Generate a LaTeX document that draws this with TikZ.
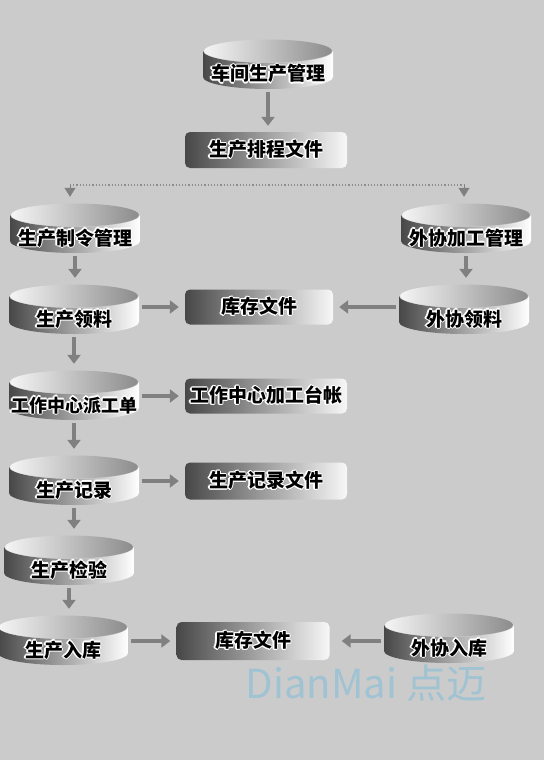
\documentclass[tikz,border=0pt]{standalone}
\usepackage{fontspec}
\usepackage{contour}
\usetikzlibrary{arrows.meta}
\newfontfamily\cjk{Noto Sans CJK SC}
\contourlength{1.1pt}
\contournumber{12}
\definecolor{bg}{HTML}{CBCBCB}
\definecolor{wmblue}{HTML}{9FC3D3}

\begin{document}
\begin{tikzpicture}[x=1pt,y=-1pt,
  disk node/.style={rectangle,inner sep=0pt,minimum width=130pt,
    text height=42pt,text depth=8pt,
    font=\cjk\bfseries\fontsize{19}{19}\selectfont,
    path picture={
      \shade[left color=black!72,right color=white]
        ([yshift=-12pt]path picture bounding box.north west)
        -- ([yshift=12pt]path picture bounding box.south west)
        arc[start angle=180,end angle=360,x radius=65pt,y radius=12pt]
        -- ([yshift=-12pt]path picture bounding box.north east)
        arc[start angle=0,end angle=-180,x radius=65pt,y radius=12pt] -- cycle;
      \shade[left color=black!4,right color=black!45]
        ([yshift=-12pt]path picture bounding box.north)
        ellipse[x radius=64pt,y radius=11.5pt];
    }},
  file node/.style={rectangle,rounded corners=5pt,minimum height=36pt,
    left color=black!72,middle color=black!12,right color=black!3,
    font=\cjk\bfseries\fontsize{19}{19}\selectfont},
  flow/.style={draw=black!50,line width=4pt,shorten <=3pt,shorten >=6pt,
    -{Triangle[width=13pt,length=9pt]}},
  tip/.style={draw=black!50,line width=1pt,shorten >=6pt,
    -{Triangle[width=11pt,length=9pt]}}]

  \useasboundingbox (0,0) rectangle (544,760);
  \fill[bg] (0,0) rectangle (544,760);

  \node[disk node] (1) at (268,64){\contour{white}{车间生产管理}};
  \node[file node,minimum width=162pt] (2) at (266,150){\contour{white}{生产排程文件}};
  \node[disk node] (3) at (75,228){\contour{white}{生产制令管理}};
  \node[disk node] (4) at (466,228){\contour{white}{外协加工管理}};
  \node[disk node] (5) at (74,309){\contour{white}{生产领料}};
  \node[file node,minimum width=148pt,minimum height=35pt] (6) at (259,307){\contour{white}{库存文件}};
  \node[disk node] (7) at (464,309){\contour{white}{外协领料}};
  \node[disk node,font=\cjk\bfseries\fontsize{18}{18}\selectfont] (8) at (74,395){\contour{white}{工作中心派工单}};
  \node[file node,minimum width=162pt,minimum height=35pt] (9) at (266,396){\contour{white}{工作中心加工台帐}};
  \node[disk node] (10) at (74,480){\contour{white}{生产记录}};
  \node[file node,minimum width=162pt,minimum height=37pt] (11) at (266,481){\contour{white}{生产记录文件}};
  \node[disk node] (12) at (69,560){\contour{white}{生产检验}};
  \node[disk node] (13) at (63,640){\contour{white}{生产入库}};
  \node[file node,minimum width=153pt,minimum height=38pt] (14) at (253,641){\contour{white}{库存文件}};
  \node[disk node] (15) at (449,638){\contour{white}{外协入库}};

  \coordinate (a) at (70,185);
  \coordinate (b) at (464,185);
  \draw[black!45,line width=1.2pt,dotted] (a) -- (b);

  \path
    (a) edge[tip] (a |- 3.north)
    (b) edge[tip] (b |- 4.north)
    (1.south) edge[flow] (1.south |- 2.north)
    (3.south) edge[flow] (3.south |- 5.north)
    (4.south) edge[flow] (4.south |- 7.north)
    (5.east |- 6.west) edge[flow] (6.west)
    (7.west |- 6.east) edge[flow] (6.east)
    (5.south) edge[flow] (5.south |- 8.north)
    (8.east |- 9.west) edge[flow] (9.west)
    (8.south) edge[flow] (8.south |- 10.north)
    (10.east |- 11.west) edge[flow] (11.west)
    (10.south) edge[flow] (10.south |- 12.north)
    (12.south) edge[flow] (12.south |- 13.north)
    (13.east |- 14.west) edge[flow] (14.west)
    (15.west |- 14.east) edge[flow,shorten >=12pt] (14.east);

  \node[text=wmblue,font=\cjk\fontsize{40}{40}\selectfont] (wm) at (366,683){DianMai 点迈};
\end{tikzpicture}
\end{document}
